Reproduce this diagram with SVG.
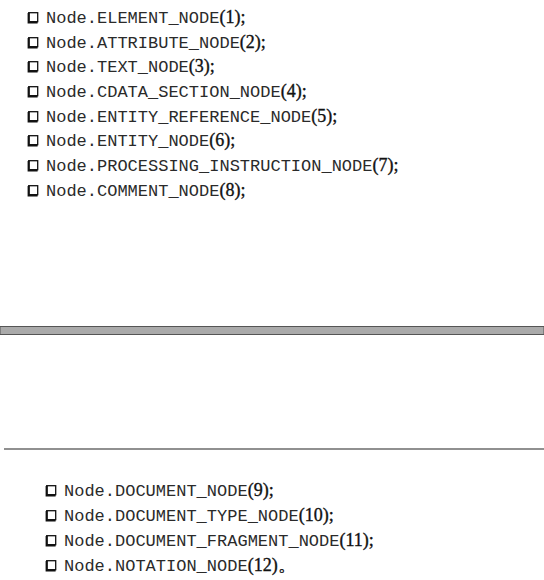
<svg xmlns="http://www.w3.org/2000/svg" width="544" height="580" viewBox="0 0 544 580">
<style>
.code{font-family:"Liberation Mono","Courier New",monospace;font-size:17px;fill:#2a2a2a;}
.num{font-family:"Liberation Serif","Times New Roman",serif;font-size:18px;fill:#111;stroke:#111;stroke-width:0.35;}
.box{fill:#fff;stroke:#111;stroke-width:1.3;}
.shadow{fill:none;stroke:#111;stroke-width:2.2;}
</style>
<defs>
<g id="cb">
<rect class="box" x="0.7" y="0.7" width="9" height="9"/>
<path class="shadow" d="M0.7,1 V10.4 H9.6"/>
</g>
</defs>
<rect x="0" y="0" width="544" height="580" fill="#fff"/>

<g id="item1"><use href="#cb" x="28" y="12"/><text x="46" y="23"><tspan class="code">Node.ELEMENT_NODE</tspan><tspan class="num">(1);</tspan></text></g>
<g id="item2"><use href="#cb" x="28" y="37"/><text x="46" y="48"><tspan class="code">Node.ATTRIBUTE_NODE</tspan><tspan class="num">(2);</tspan></text></g>
<g id="item3"><use href="#cb" x="28" y="61"/><text x="46" y="72"><tspan class="code">Node.TEXT_NODE</tspan><tspan class="num">(3);</tspan></text></g>
<g id="item4"><use href="#cb" x="28" y="86"/><text x="46" y="97"><tspan class="code">Node.CDATA_SECTION_NODE</tspan><tspan class="num">(4);</tspan></text></g>
<g id="item5"><use href="#cb" x="28" y="111"/><text x="46" y="122"><tspan class="code">Node.ENTITY_REFERENCE_NODE</tspan><tspan class="num">(5);</tspan></text></g>
<g id="item6"><use href="#cb" x="28" y="135"/><text x="46" y="146"><tspan class="code">Node.ENTITY_NODE</tspan><tspan class="num">(6);</tspan></text></g>
<g id="item7"><use href="#cb" x="28" y="160"/><text x="46" y="171"><tspan class="code">Node.PROCESSING_INSTRUCTION_NODE</tspan><tspan class="num">(7);</tspan></text></g>
<g id="item8"><use href="#cb" x="28" y="185"/><text x="46" y="196"><tspan class="code">Node.COMMENT_NODE</tspan><tspan class="num">(8);</tspan></text></g>

<g id="divider">
<rect x="0" y="326.5" width="544" height="8" fill="#aaa" stroke="#555" stroke-width="1"/>
</g>
<g id="rule">
<line x1="4" y1="449" x2="544" y2="449" stroke="#222" stroke-width="1.2"/>
</g>

<g id="item9"><use href="#cb" x="46" y="485"/><text x="64" y="496"><tspan class="code">Node.DOCUMENT_NODE</tspan><tspan class="num">(9);</tspan></text></g>
<g id="item10"><use href="#cb" x="46" y="510"/><text x="64" y="521"><tspan class="code">Node.DOCUMENT_TYPE_NODE</tspan><tspan class="num">(10);</tspan></text></g>
<g id="item11"><use href="#cb" x="46" y="535"/><text x="64" y="546"><tspan class="code">Node.DOCUMENT_FRAGMENT_NODE</tspan><tspan class="num">(11);</tspan></text></g>
<g id="item12"><use href="#cb" x="46" y="560"/><text x="64" y="571"><tspan class="code">Node.NOTATION_NODE</tspan><tspan class="num">(12)。</tspan></text></g>

<g id="connectors"/>
</svg>
